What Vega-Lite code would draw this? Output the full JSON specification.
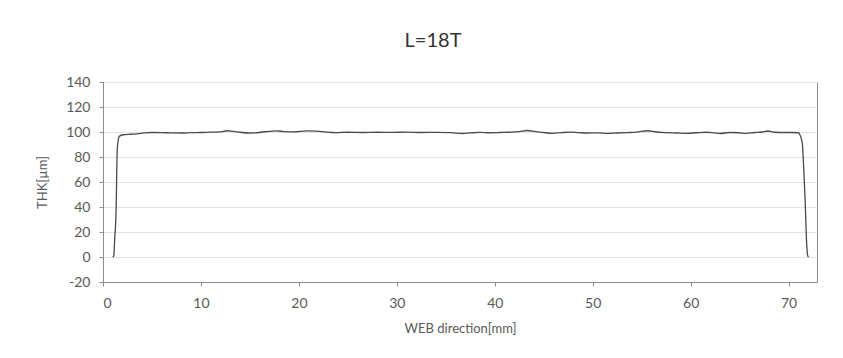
{
  "$schema": "https://vega.github.io/schema/vega-lite/v6.json",
  "autosize": "none",
  "width": 714,
  "height": 200,
  "padding": {"left": 103, "top": 82, "right": 26, "bottom": 76},
  "background": "white",
  "title": {"text": "L=18T", "font": "Lato", "fontSize": 20, "fontWeight": "normal", "color": "#333333", "offset": 24, "dx": -27},
  "config": {
    "view": {"stroke": "#8a8a8a", "strokeWidth": 1},
    "axis": {
      "labelFont": "Lato", "labelFontSize": 14, "labelColor": "#595959",
      "titleFont": "Lato", "titleFontSize": 13, "titleFontWeight": "normal", "titleColor": "#595959",
      "domainColor": "#8a8a8a", "tickColor": "#8a8a8a", "tickSize": 4,
      "gridColor": "#e3e3e3", "gridWidth": 1
    }
  },
  "data": {"values": [
    {"x": 1.0, "y": 0}, {"x": 1.1, "y": 1}, {"x": 1.2, "y": 15}, {"x": 1.33, "y": 35}, {"x": 1.46, "y": 87}, {"x": 1.66, "y": 96.5}, {"x": 2.07, "y": 97.8}, {"x": 2.8, "y": 98.2}, {"x": 3.5, "y": 98.5}, {"x": 4.2, "y": 99.3}, {"x": 5, "y": 99.6}, {"x": 6, "y": 99.5}, {"x": 7, "y": 99.3}, {"x": 8, "y": 99.2}, {"x": 9, "y": 99.5}, {"x": 10, "y": 99.6}, {"x": 11, "y": 99.9}, {"x": 12, "y": 100.1}, {"x": 12.6, "y": 101}, {"x": 13.3, "y": 100.5}, {"x": 14, "y": 99.8}, {"x": 14.8, "y": 99.2}, {"x": 15.5, "y": 99.3}, {"x": 16.5, "y": 100.2}, {"x": 17.7, "y": 100.9}, {"x": 18.5, "y": 100.3}, {"x": 19.5, "y": 100.1}, {"x": 20.8, "y": 100.9}, {"x": 21.8, "y": 100.7}, {"x": 22.8, "y": 99.9}, {"x": 23.8, "y": 99.5}, {"x": 25, "y": 99.8}, {"x": 26.5, "y": 99.6}, {"x": 28, "y": 99.8}, {"x": 29.5, "y": 99.7}, {"x": 31, "y": 99.9}, {"x": 32.5, "y": 99.6}, {"x": 34, "y": 99.7}, {"x": 35.5, "y": 99.5}, {"x": 36.7, "y": 98.8}, {"x": 37.5, "y": 99.3}, {"x": 38.5, "y": 99.7}, {"x": 39.5, "y": 99.4}, {"x": 40.5, "y": 99.6}, {"x": 41.5, "y": 99.8}, {"x": 42.5, "y": 100.3}, {"x": 43.3, "y": 101.2}, {"x": 44.2, "y": 100.3}, {"x": 45.2, "y": 99.4}, {"x": 45.9, "y": 98.9}, {"x": 46.8, "y": 99.5}, {"x": 47.8, "y": 99.9}, {"x": 48.6, "y": 99.5}, {"x": 49.5, "y": 99.2}, {"x": 50.5, "y": 99.3}, {"x": 51.4, "y": 98.9}, {"x": 52.5, "y": 99.2}, {"x": 53.5, "y": 99.5}, {"x": 54.5, "y": 99.9}, {"x": 55.6, "y": 101}, {"x": 56.5, "y": 100.0}, {"x": 57.5, "y": 99.5}, {"x": 58.6, "y": 99.2}, {"x": 59.6, "y": 98.9}, {"x": 60.6, "y": 99.4}, {"x": 61.6, "y": 99.8}, {"x": 62.4, "y": 99.3}, {"x": 63.0, "y": 98.8}, {"x": 64, "y": 99.6}, {"x": 64.9, "y": 99.4}, {"x": 65.7, "y": 98.9}, {"x": 66.5, "y": 99.6}, {"x": 67.3, "y": 100}, {"x": 67.9, "y": 100.8}, {"x": 68.6, "y": 99.8}, {"x": 69.5, "y": 99.6}, {"x": 70.3, "y": 99.6}, {"x": 71.0, "y": 99.4}, {"x": 71.2, "y": 97}, {"x": 71.4, "y": 91}, {"x": 71.55, "y": 70}, {"x": 71.7, "y": 43}, {"x": 71.85, "y": 10}, {"x": 71.95, "y": 1}, {"x": 72.05, "y": 0}
  ]},
  "mark": {"type": "line", "color": "#4a4a4a", "strokeWidth": 1.3, "interpolate": "monotone"},
  "encoding": {
    "x": {"field": "x", "type": "quantitative", "title": "WEB direction[mm]",
      "scale": {"domain": [0, 72.9], "nice": false, "zero": false},
      "axis": {"values": [0, 10, 20, 30, 40, 50, 60, 70], "grid": false, "labelPadding": 10, "titlePadding": 12}},
    "y": {"field": "y", "type": "quantitative", "title": "THK[µm]",
      "scale": {"domain": [-20, 140], "nice": false},
      "axis": {"values": [-20, 0, 20, 40, 60, 80, 100, 120, 140], "labelExpr": "'' + datum.value", "labelPadding": 9, "titlePadding": 16}}
  }
}
